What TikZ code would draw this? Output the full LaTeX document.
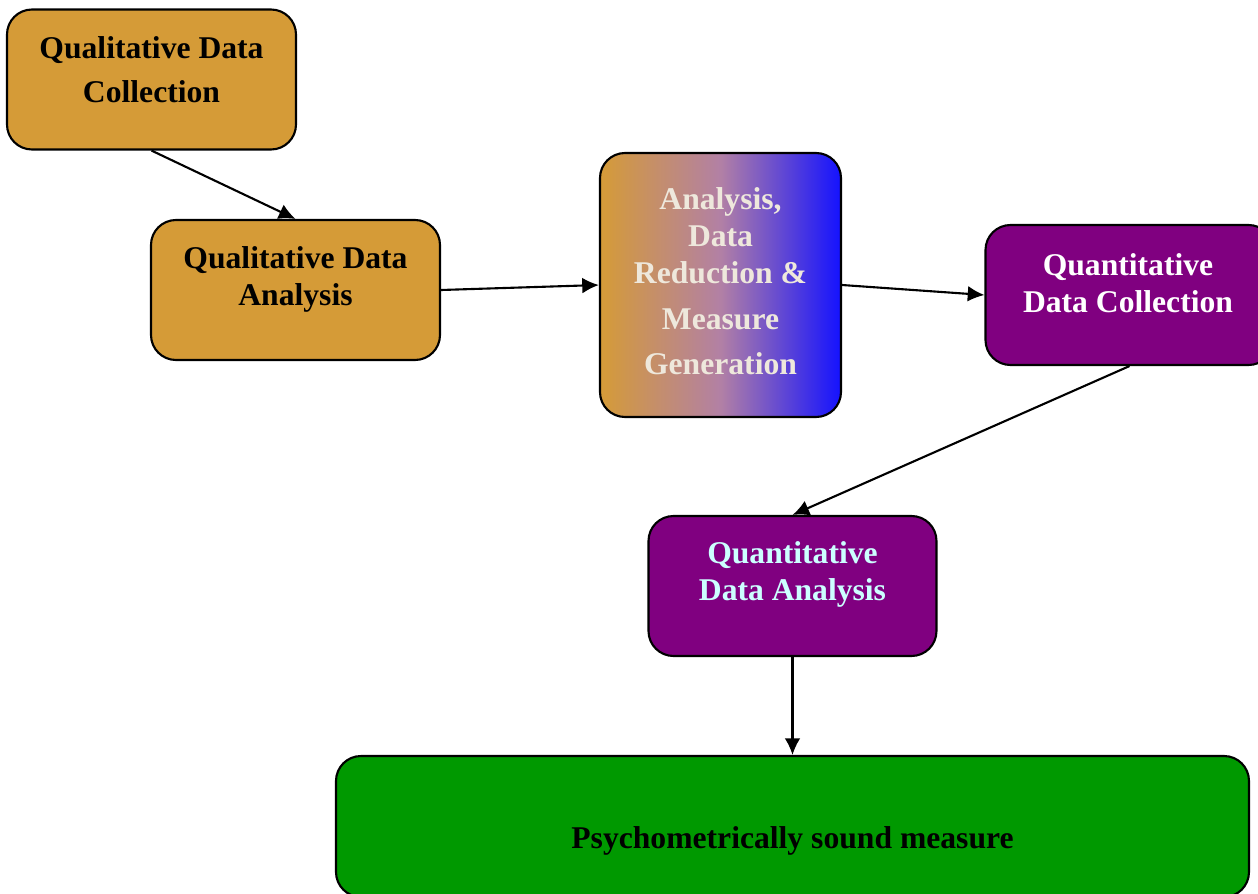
\documentclass[tikz,border=0pt]{standalone}
\usepackage{fontspec}
\setmainfont{Liberation Serif}
\usepackage{xcolor}
\usepackage{tikz}
\usetikzlibrary{positioning}
\usetikzlibrary{arrows.meta,shapes}
\usetikzlibrary{calc}
\definecolor{qualbrown}{RGB}{213,155,55}
\definecolor{quantpurple}{RGB}{128,0,128}
\definecolor{soundgreen}{RGB}{0,153,0}
\definecolor{mixblue}{RGB}{20,18,255}
\definecolor{mixpink}{RGB}{178,128,165}
\definecolor{paletext}{RGB}{238,232,220}
\definecolor{cyantext}{RGB}{204,255,255}
\pgfdeclarehorizontalshading{mixshade}{100bp}{color(0bp)=(qualbrown); color(25bp)=(qualbrown); color(50bp)=(mixpink); color(75bp)=(mixblue); color(100bp)=(mixblue)}
\tikzstyle{stage}=[rectangle,rounded corners=0.5cm,draw=black,line width=1.2pt,inner sep=0pt]
\tikzstyle{qualstage}=[stage,fill=qualbrown,minimum width=5.78cm,minimum height=2.8cm]
\tikzstyle{quantstage}=[stage,fill=quantpurple,minimum width=5.76cm,minimum height=2.8cm]
\tikzstyle{txt}=[align=center,inner sep=0pt,font=\fontsize{18}{21}\selectfont\bfseries]
\tikzstyle{edge}=[draw,line width=1.2pt,-{Latex[length=9.5pt,width=9pt]}]

\begin{document}
\begin{tikzpicture}

  \useasboundingbox (0,0) rectangle (25.16,-17.86);

  % boxes
  \node[qualstage] (qlc) at (3.03,-1.59) {};
  \node[qualstage] (qla) at (5.91,-5.8) {};
  \node[stage, shading=mixshade, minimum width=4.82cm, minimum height=5.28cm] (adr) at (14.41,-5.7) {};
  \node[quantstage] (qnc) at (22.59,-5.9) {};
  \node[quantstage] (qna) at (15.85,-11.72) {};
  \node[stage, fill=soundgreen, minimum width=18.26cm, minimum height=2.82cm] (psm) at (15.85,-16.53) {};

  % texts
  \node[txt] (qlctext) at (3.03,-1.4) {Qualitative Data\\[4pt] Collection};
  \node[txt] (qlatext) at (5.91,-5.59) {Qualitative Data\\ Analysis};
  \node[txt, paletext] (adrtext) at (14.41,-5.62) {Analysis,\\ Data\\ Reduction \&\\[5.5pt] Measure\\[4.5pt] Generation};
  \node[txt, white] (qnctext) at (22.56,-5.66) {Quantitative\\ Data Collection};
  \node[txt, cyantext] (qnatext) at (15.85,-11.49) {Quantitative\\ Data Analysis};
  \node[txt] (psmtext) at (15.85,-16.82) {Psychometrically sound measure};

  \foreach \source/\dest in {qlc.south/qla.north, qla.east/adr.west, adr.east/qnc.west, qnc.south/qna.north, qna.south/psm.north}
         \path[edge] (\source) -- (\dest);

\end{tikzpicture}
\end{document}
